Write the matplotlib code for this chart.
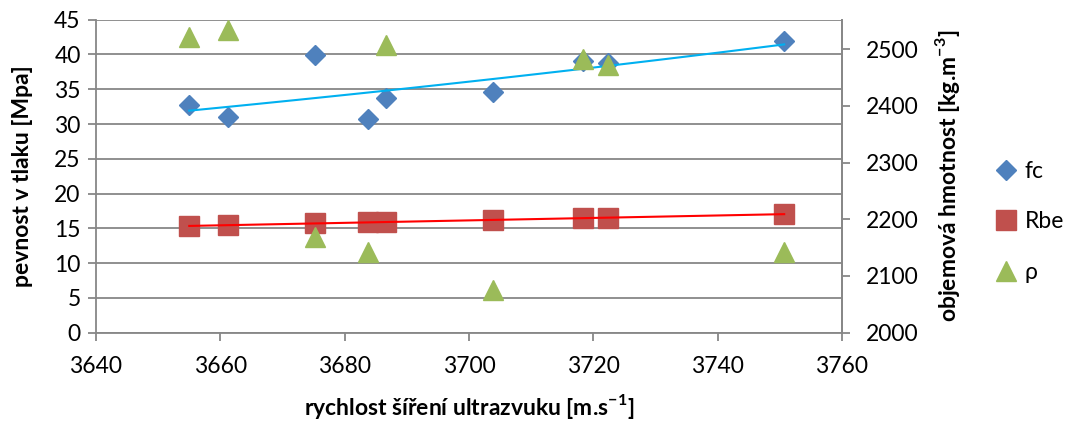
import numpy as np
import matplotlib
matplotlib.use("Agg")
import matplotlib.pyplot as plt
from matplotlib.lines import Line2D

# data
velocity = [3655.0, 3661.3, 3675.2, 3683.7, 3686.6, 3703.8, 3718.3, 3722.4, 3750.7]
fc = [32.67, 31.07, 39.87, 30.75, 33.77, 34.58, 39.1, 38.8, 41.93]
rbe = [15.37, 15.47, 15.7, 15.85, 15.9, 16.2, 16.48, 16.53, 17.06]
rho = [2521, 2534, 2168, 2142, 2508, 2075, 2483, 2472, 2142]

x_ticks = [3640, 3660, 3680, 3700, 3720, 3740, 3760]
left_ticks = [0, 5, 10, 15, 20, 25, 30, 35, 40, 45]
right_ticks = [2000, 2100, 2200, 2300, 2400, 2500]

BLUE = "#4F81BD"
RED = "#C0504D"
GREEN = "#9BBB59"
GRID = "#878787"

plt.rcParams["font.family"] = ["Lato", "DejaVu Sans"]
plt.rcParams["mathtext.fontset"] = "custom"
plt.rcParams["mathtext.rm"] = "Lato"
plt.rcParams["mathtext.bf"] = "Lato:bold"
FS = 16.5


def main() -> None:
    fig = plt.figure(figsize=(10.8, 4.23), dpi=100)
    ax = fig.add_axes([96 / 1080, 1 - 332.7 / 423, 746 / 1080, 313 / 423])
    ax2 = ax.twinx()

    x = np.array(velocity)
    xs = np.linspace(x.min(), x.max(), 100)

    ax.plot(x, fc, ls="none", marker="D", ms=10.2, color=BLUE, zorder=3)
    ax.plot(x, rbe, ls="none", marker="s", ms=14.4, color=RED, zorder=3)

    # trendlines (exponential for fc, linear for Rbe)
    b, a = np.polyfit(x, np.log(fc), 1)
    ax.plot(xs, np.exp(a + b * xs), color="#00B0F0", lw=1.5, zorder=4)
    k, q = np.polyfit(x, rbe, 1)
    ax.plot(xs, k * xs + q, color="#FF0000", lw=1.5, zorder=4)

    ax2.plot(x, rho, ls="none", marker="^", ms=14.4, color=GREEN, zorder=3)

    ax.set_xlim(3640, 3760)
    ax.set_ylim(0, 45)
    ax2.set_ylim(2000, 2552)
    ax.set_xticks(x_ticks)
    ax.set_yticks(left_ticks)
    ax2.set_yticks(right_ticks)

    ax.grid(axis="y", color=GRID, lw=1.3)
    ax.set_axisbelow(True)

    for a_ in (ax, ax2):
        a_.spines["top"].set_visible(False)
        for sp in a_.spines.values():
            sp.set_color(GRID)
            sp.set_linewidth(1.3)
    ax2.spines["left"].set_visible(False)
    ax2.spines["bottom"].set_visible(False)

    ax.tick_params(axis="x", direction="out", length=6, width=1.3, color=GRID,
                   labelsize=FS, pad=11)
    ax.tick_params(axis="y", direction="out", length=6, width=1.3, color=GRID,
                   labelsize=FS, pad=5)
    ax2.tick_params(axis="y", direction="out", length=6, width=1.3, color=GRID,
                    labelsize=FS, pad=11)

    ax.set_xlabel(r"rychlost šíření ultrazvuku [m.s$^{\mathbf{-1}}$]",
                  fontsize=FS, fontweight="bold", va="center")
    ax.xaxis.set_label_coords(0.5, -0.235)
    ax.set_ylabel("pevnost v tlaku [Mpa]", fontsize=FS, fontweight="bold",
                  va="center")
    ax.yaxis.set_label_coords(-0.099, 0.5)
    ax2.set_ylabel(r"objemová hmotnost [kg.m$^{\mathbf{-3}}$]", fontsize=FS,
                   fontweight="bold", va="center")
    ax2.yaxis.set_label_coords(1.142, 0.5)

    handles = [
        Line2D([], [], ls="none", marker="D", ms=10.2, color=BLUE),
        Line2D([], [], ls="none", marker="s", ms=14.4, color=RED),
        Line2D([], [], ls="none", marker="^", ms=14.4, color=GREEN),
    ]
    fig.legend(handles, ["fc", "Rbe", "ρ"], loc="center left",
               bbox_to_anchor=(995 / 1080, 1 - 222 / 423), frameon=False,
               fontsize=FS, handlelength=1.0, handletextpad=0.3,
               labelspacing=1.3, borderpad=0, borderaxespad=0)

    fig.savefig("out.png", dpi=100)


if __name__ == "__main__":
    main()
